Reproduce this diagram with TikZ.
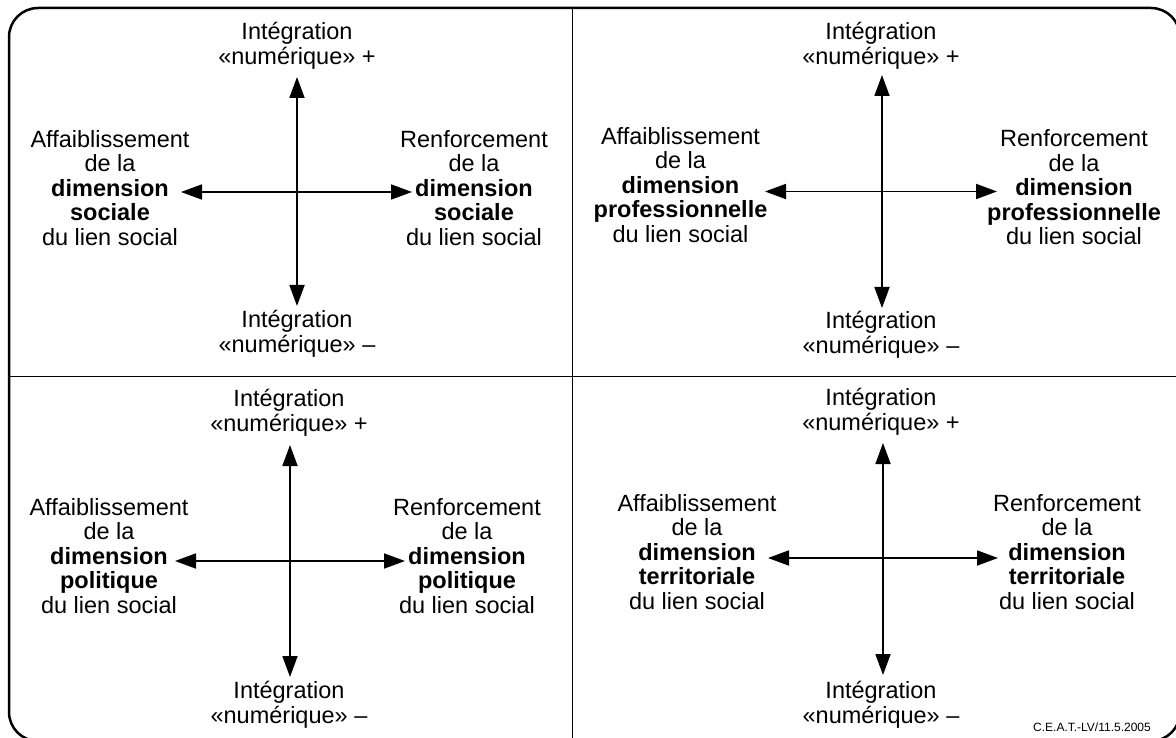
\documentclass[tikz,border=0pt]{standalone}
\usepackage{fontspec}
\setmainfont{Liberation Sans}
\usetikzlibrary{arrows.meta}
\begin{document}
\begin{tikzpicture}[x=1pt,y=-1pt,
  lbl/.style={align=center, inner sep=0pt, font=\fontsize{23.5}{24.5}\selectfont},
  credit/.style={inner sep=0pt, font=\fontsize{12}{14}\selectfont},
  axis/.style={line width=1.8pt, {Triangle[length=21pt,width=15pt]}-{Triangle[length=21pt,width=15pt]}},
  frame/.style={line width=2.5pt, rounded corners=29pt},
  divider/.style={line width=1.8pt}]
\useasboundingbox (0,0) rectangle (1176,738);
\draw[frame] (9,8) rectangle (1180,741);
% dividers
\coordinate (dt) at (572.5,8);
\coordinate (db) at (572.5,741);
\coordinate (dl) at (9,376.5);
\coordinate (dr) at (1180,376.5);
\draw[divider] (dt) -- (db);
\draw[divider] (dl) -- (dr);

% ---------- Quadrant 1 ----------
\node[lbl] (q1top) at (297,46) {Intégration\\«numérique» +};
\node[lbl] (q1bot) at (297,334) {Intégration\\«numérique» –};
\node[lbl] (q1left) at (110,188) {Affaiblissement\\de la\\\textbf{dimension}\\\textbf{sociale}\\du lien social};
\node[lbl] (q1right) at (474,188) {Renforcement\\de la\\\textbf{dimension}\\\textbf{sociale}\\du lien social};
\coordinate (q1n) at (297,77);
\coordinate (q1s) at (297,306);
\coordinate (q1w) at (181,192);
\coordinate (q1e) at (412,192);
\draw[axis] (q1n) -- (q1s);
\draw[axis] (q1w) -- (q1e);

% ---------- Quadrant 2 ----------
\node[lbl] (q2top) at (881,46) {Intégration\\«numérique» +};
\node[lbl] (q2bot) at (881,335) {Intégration\\«numérique» –};
\node[lbl] (q2left) at (680.5,185) {Affaiblissement\\de la\\\textbf{dimension}\\\textbf{professionnelle}\\du lien social};
\node[lbl] (q2right) at (1074,187.5) {Renforcement\\de la\\\textbf{dimension}\\\textbf{professionnelle}\\du lien social};
\coordinate (q2n) at (882,75);
\coordinate (q2s) at (882,308);
\coordinate (q2w) at (765,191.5);
\coordinate (q2e) at (997,191.5);
\draw[axis] (q2n) -- (q2s);
\draw[axis] (q2w) -- (q2e);

% ---------- Quadrant 3 ----------
\node[lbl] (q3top) at (289,413) {Intégration\\«numérique» +};
\node[lbl] (q3bot) at (289,705) {Intégration\\«numérique» –};
\node[lbl] (q3left) at (109,556) {Affaiblissement\\de la\\\textbf{dimension}\\\textbf{politique}\\du lien social};
\node[lbl] (q3right) at (467,556) {Renforcement\\de la\\\textbf{dimension}\\\textbf{politique}\\du lien social};
\coordinate (q3n) at (290,445);
\coordinate (q3s) at (290,677);
\coordinate (q3w) at (175,561);
\coordinate (q3e) at (405,561);
\draw[axis] (q3n) -- (q3s);
\draw[axis] (q3w) -- (q3e);

% ---------- Quadrant 4 ----------
\node[lbl] (q4top) at (881,412) {Intégration\\«numérique» +};
\node[lbl] (q4bot) at (881,705) {Intégration\\«numérique» –};
\node[lbl] (q4left) at (697,552) {Affaiblissement\\de la\\\textbf{dimension}\\\textbf{territoriale}\\du lien social};
\node[lbl] (q4right) at (1067,552) {Renforcement\\de la\\\textbf{dimension}\\\textbf{territoriale}\\du lien social};
\coordinate (q4n) at (883,443);
\coordinate (q4s) at (883,675);
\coordinate (q4w) at (768,558);
\coordinate (q4e) at (998,558);
\draw[axis] (q4n) -- (q4s);
\draw[axis] (q4w) -- (q4e);

\node[credit] (credit) at (1092,727) {C.E.A.T.-LV/11.5.2005};
\end{tikzpicture}
\end{document}
